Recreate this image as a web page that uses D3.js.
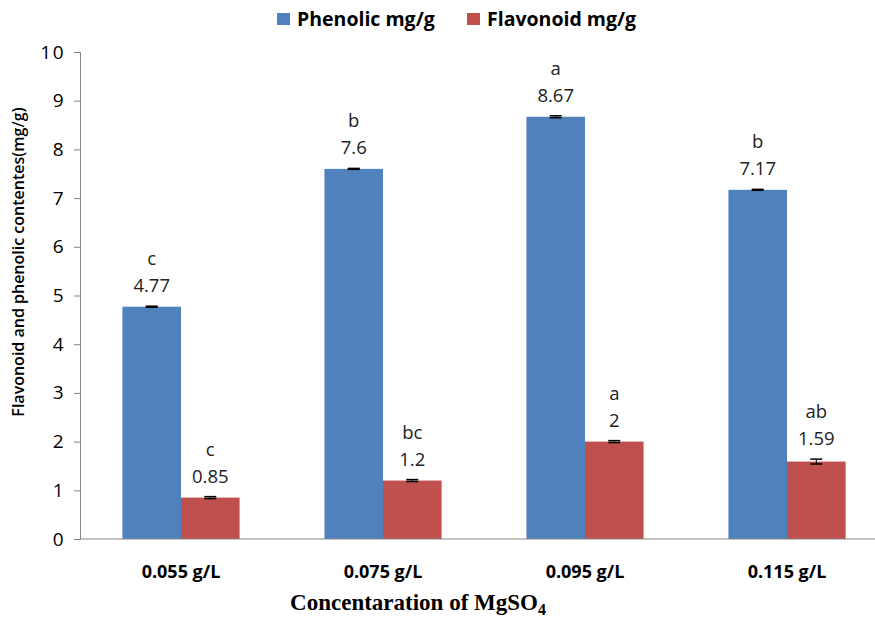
<!DOCTYPE html>
<html>
<head>
<meta charset="utf-8">
<script src="https://cdn.jsdelivr.net/npm/d3@7"></script>
<style>
  body { margin: 0; background: #fff; }
  svg text { font-family: "Open Sans", "Noto Sans", sans-serif; }
</style>
</head>
<body>
<div id="chart"></div>
<script>
const width = 875;
const height = 621;

// data
const categories = ["0.055 g/L", "0.075 g/L", "0.095 g/L", "0.115 g/L"];
const seriesNames = ["Phenolic mg/g", "Flavonoid mg/g"];
const phenolic = [4.77, 7.6, 8.67, 7.17];
const flavonoid = [0.85, 1.2, 2, 1.59];
const phenolicErr = [0.01, 0.01, 0.02, 0.01];
const flavonoidErr = [0.02, 0.02, 0.02, 0.05];
const phenolicLetters = ["c", "b", "a", "b"];
const flavonoidLetters = ["c", "bc", "a", "ab"];
const yTicks = [0, 1, 2, 3, 4, 5, 6, 7, 8, 9, 10];
const colors = ["#4f81bd", "#c0504d"];

const series = [
    { name: seriesNames[0], values: phenolic, err: phenolicErr, letters: phenolicLetters },
    { name: seriesNames[1], values: flavonoid, err: flavonoidErr, letters: flavonoidLetters }
];

const x0 = 80;
const y = d3.scaleLinear().domain([0, 10]).range([539, 52]);
const x = d3.scaleBand().domain(categories).range([x0, x0 + 808]).paddingInner(0.42).paddingOuter(0.21);
const xs = d3.scaleBand().domain(seriesNames).range([0, x.bandwidth()]);

const svg = d3.select("#chart").append("svg")
    .attr("width", width)
    .attr("height", height);

// y axis
const yAxis = svg.append("g")
    .attr("transform", `translate(${x0},0)`)
    .call(d3.axisLeft(y).tickValues(yTicks).tickSize(6).tickPadding(9));
yAxis.select(".domain").attr("stroke", "#868686");
yAxis.selectAll(".tick line").attr("stroke", "#868686");
yAxis.selectAll(".tick text")
    .attr("font-size", "19px")
    .attr("letter-spacing", "1.5px")
    .attr("fill", "#000")
    .style("font-family", "'Open Sans', sans-serif");

// bars
const groups = svg.selectAll("g.series")
    .data(series)
    .enter().append("g")
    .attr("class", "series");

groups.each(function(s, si) {
    const g = d3.select(this);
    categories.forEach((c, i) => {
        const bx = x(c) + xs(s.name);
        const v = s.values[i];
        g.append("rect")
            .attr("x", bx)
            .attr("y", y(v))
            .attr("width", xs.bandwidth())
            .attr("height", y(0) - y(v))
            .attr("fill", colors[si]);

        const cx = bx + xs.bandwidth() / 2;
        const e = s.err[i];
        g.append("line")
            .attr("x1", cx).attr("x2", cx)
            .attr("y1", y(v + e)).attr("y2", y(v - e))
            .attr("stroke", "#000").attr("stroke-width", 1);
        [v + e, v - e].forEach(t => {
            g.append("line")
                .attr("x1", cx - 6).attr("x2", cx + 6)
                .attr("y1", y(t)).attr("y2", y(t))
                .attr("stroke", "#000").attr("stroke-width", 1.5);
        });

        const top = y(v + e);
        g.append("text")
            .attr("x", cx)
            .attr("y", top - 14)
            .attr("text-anchor", "middle")
            .attr("font-size", "18.5px")
            .attr("fill", "#222")
            .text(v);
        g.append("text")
            .attr("x", cx)
            .attr("y", top - 41)
            .attr("text-anchor", "middle")
            .attr("font-size", "18.5px")
            .attr("fill", "#222")
            .text(s.letters[i]);
    });
});

// x axis
svg.append("line")
    .attr("x1", x0).attr("x2", width)
    .attr("y1", y(0)).attr("y2", y(0))
    .attr("stroke", "#868686");

svg.selectAll("text.xlab")
    .data(categories)
    .enter().append("text")
    .attr("class", "xlab")
    .attr("x", d => x(d) + x.bandwidth() / 2)
    .attr("y", 578)
    .attr("text-anchor", "middle")
    .attr("font-size", "18px")
    .attr("font-weight", "bold")
    .text(d => d);

// axis titles
const xt = svg.append("text")
    .attr("x", 418)
    .attr("y", 610)
    .attr("text-anchor", "middle")
    .attr("font-size", "23px")
    .attr("font-weight", "bold")
    .style("font-family", "'Liberation Serif', 'Times New Roman', serif");
xt.append("tspan").text("Concentaration of MgSO");
xt.append("tspan").attr("font-size", "16px").attr("dy", 5).text("4");

svg.append("text")
    .attr("transform", "translate(24,262) rotate(-90)")
    .attr("text-anchor", "middle")
    .attr("font-size", "16px")
    .attr("font-weight", "600")
    .text("Flavonoid and phenolic contentes(mg/g)");

// legend
const legendX = [277, 467];
const legend = svg.selectAll("g.legend")
    .data(seriesNames)
    .enter().append("g")
    .attr("class", "legend")
    .attr("transform", (d, i) => `translate(${legendX[i]},13)`);
legend.append("rect")
    .attr("width", 13).attr("height", 12)
    .attr("fill", (d, i) => colors[i]);
legend.append("text")
    .attr("x", 20).attr("y", 13)
    .attr("font-size", "19.5px")
    .attr("font-weight", "bold")
    .text(d => d);
</script>
</body>
</html>
